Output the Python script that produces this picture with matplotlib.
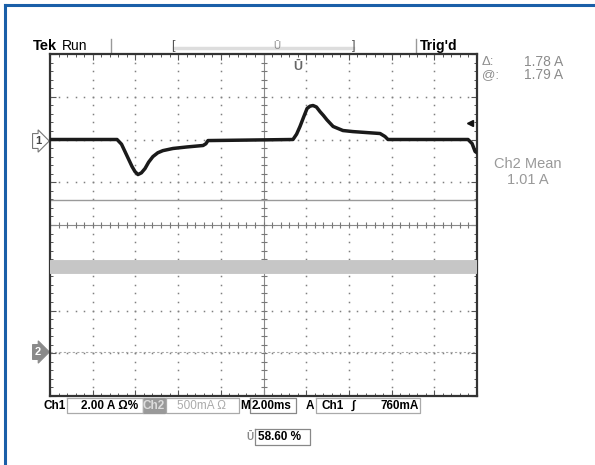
import matplotlib
matplotlib.use("Agg")
import matplotlib.pyplot as plt
import numpy as np

plt.rcParams['font.family'] = ['Liberation Sans', 'DejaVu Sans']

# scope settings
ch1_scale = 2.00      # A/div
ch2_scale = 0.50      # A/div
time_scale = 2.00     # ms/div
ch1_ground = 6.0      # div from bottom
ch2_ground = 1.0
ch1_trig_level = 0.76  # A
cursor_a = 1.79       # A (Ch2)
cursor_b = 0.01
ch2_mean = 1.01

# Ch1 trace, time in ms from left edge, current in A
ch1_t = [0.0, 3.14, 3.35, 3.51, 3.68, 3.84, 3.98, 4.12, 4.28, 4.45, 4.62, 4.82, 5.05, 5.29,
         5.76, 6.4, 7.17, 7.3, 7.40, 11.38, 11.55, 11.71, 11.88, 12.04, 12.18, 12.32, 12.48,
         12.65, 12.81, 12.97, 13.26, 13.72, 14.19, 15.46, 15.69, 15.83, 19.58, 19.77, 19.91, 20.0]
ch1_i = [0.0, 0.0, -0.22, -0.56, -0.92, -1.26, -1.50, -1.64, -1.56, -1.36, -1.06, -0.80, -0.62, -0.52,
         -0.42, -0.35, -0.28, -0.20, -0.05, 0.0, 0.25, 0.61, 1.05, 1.45, 1.56, 1.59, 1.52,
         1.30, 1.12, 0.92, 0.61, 0.42, 0.37, 0.28, 0.14, 0.0, 0.0, -0.19, -0.56, -0.62]

ch2_t = [0.0, 20.0]
ch2_i = [ch2_mean, ch2_mean]

W, H = 595, 465
fig = plt.figure(figsize=(W / 100, H / 100), dpi=100)
fig.patch.set_facecolor('white')

# overlay in pixel coords for the screen text
ov = fig.add_axes([0, 0, 1, 1])
ov.set_xlim(0, W)
ov.set_ylim(H, 0)
ov.axis('off')
ov.patch.set_alpha(0)

# blue frame (left and top)
ov.plot([5, 5], [5, H], color='#1a5fa8', lw=2.2)
ov.plot([5, W], [5, 5], color='#1a5fa8', lw=2.2)

# graticule axes
gl, gt, gr, gb = 50, 54, 477, 396
ax = fig.add_axes([gl / W, 1 - gb / H, (gr - gl) / W, (gb - gt) / H])
ax.set_xlim(0, 10 * time_scale)
ax.set_ylim(0, 8)
ax.set_facecolor('none')
for s in ax.spines.values():
    s.set_color('#333333')
    s.set_linewidth(1.6)
ax.set_xticks(np.arange(0, 20.01, time_scale))
ax.set_xticks(np.arange(0, 20.01, time_scale / 5), minor=True)
ax.set_yticks(np.arange(0, 8.01, 1))
ax.set_yticks(np.arange(0, 8.01, 0.2), minor=True)
ax.tick_params(which='both', direction='in', top=True, right=True,
               labelbottom=False, labelleft=False, color='#555555')
ax.tick_params(which='major', length=4, width=0.8)
ax.tick_params(which='minor', length=2.5, width=0.7)

# dotted grid
sub_x = np.arange(0, 20.01, time_scale / 5)
sub_y = np.arange(0, 8.01, 0.2)
for k in range(1, 10):
    if k == 5:
        continue
    ax.plot(np.full_like(sub_y, k * time_scale), sub_y, ls='none', marker='s',
            ms=1.1, color='#808080', mew=0)
for k in range(1, 8):
    if k == 4:
        continue
    ax.plot(sub_x, np.full_like(sub_x, k), ls='none', marker='s', ms=1.1,
            color='#808080', mew=0)

# center cross with ticks
ax.axhline(4, color='#8a8a8a', lw=0.8)
ax.axvline(10, color='#8a8a8a', lw=0.8)
ax.plot(sub_x, np.full_like(sub_x, 4), ls='none', marker='|', ms=4, mew=0.8, color='#777777')
ax.plot(np.full_like(sub_y, 10), sub_y, ls='none', marker='_', ms=4, mew=0.8, color='#777777')

# cursors (Ch2)
ax.axhline(ch2_ground + cursor_a / ch2_scale, color='#9a9a9a', lw=1.0)
ax.axhline(ch2_ground + cursor_b / ch2_scale, color='#a8a8a8', lw=0.8, ls=(0, (2, 2)))

# traces
ch2_y = [ch2_ground + v / ch2_scale for v in ch2_i]
ax.plot(ch2_t, ch2_y, color='#c6c6c6', lw=10, solid_capstyle='butt', zorder=3)
ch1_y = [ch1_ground + v / ch1_scale for v in ch1_i]
ax.plot(ch1_t, ch1_y, color='#1a1a1a', lw=2.5, solid_joinstyle='round', zorder=4)

# trigger level arrow
ax.plot([19.65], [ch1_ground + ch1_trig_level / ch1_scale], marker='<', ms=5,
        color='#111111', clip_on=False, zorder=5)

# header
ov.text(33, 46, 'Tek', fontsize=10.5, fontweight='bold', va='center', ha='left')
ov.text(62, 46, 'Run', fontsize=10, va='center', ha='left')
ov.plot([111, 111], [39, 52], color='#999999', lw=1)
ov.plot([174, 353], [48, 48], color='#dddddd', lw=2.5)
ov.text(171, 46, '[', fontsize=9, va='center', ha='left', color='#555555')
ov.text(352, 46, ']', fontsize=9, va='center', ha='left', color='#555555')
ov.text(277, 46, 'Ū', fontsize=7, va='center', ha='center', color='#888888')
ov.plot([416, 416], [39, 52], color='#999999', lw=1)
ov.text(420, 46, "Trig'd", fontsize=10, fontweight='bold', va='center', ha='left')
ov.text(298, 67, 'Ū', fontsize=9, fontweight='bold', va='center', ha='center', color='#666666')

# cursor readouts
gray = '#8c8c8c'
ov.text(482, 62, 'Δ:', fontsize=9.5, color=gray, va='center')
ov.text(563, 62, '1.78 A', fontsize=10, color=gray, va='center', ha='right')
ov.text(482, 75, '@:', fontsize=9.5, color=gray, va='center')
ov.text(563, 75, '1.79 A', fontsize=10, color=gray, va='center', ha='right')
ov.text(528, 164, 'Ch2 Mean', fontsize=10.5, color='#999999', va='center', ha='center')
ov.text(528, 180, '1.01 A', fontsize=10.5, color='#999999', va='center', ha='center')

# channel markers
ov.text(35, 141, '1', fontsize=8, fontweight='bold', va='center', ha='left', color='#444444',
        bbox=dict(boxstyle='rarrow,pad=0.22', fc='white', ec='#777777', lw=0.8))
ov.text(35, 352, '2', fontsize=8, fontweight='bold', va='center', ha='left', color='white',
        bbox=dict(boxstyle='rarrow,pad=0.22', fc='#8a8a8a', ec='#8a8a8a', lw=0.8))

# bottom status line
def box(x0, x1, y0, y1, ec='#aaaaaa'):
    ov.plot([x0, x1, x1, x0, x0], [y0, y0, y1, y1, y0], color=ec, lw=0.9)

fs = 8.5
ov.text(44, 406, 'Ch1', fontsize=fs, fontweight='bold', va='center')
box(67, 143, 398, 413)
ov.text(81, 406, '2.00 A Ω%', fontsize=fs, fontweight='bold', va='center')
ov.add_patch(plt.Rectangle((143, 398), 22, 15, fc='#999999', ec='#999999'))
ov.text(154, 406, 'Ch2', fontsize=fs, fontweight='bold', va='center', ha='center', color='#dddddd')
box(166, 239, 398, 413)
ov.text(177, 406, '500mA Ω', fontsize=fs, va='center', color='#aaaaaa')
ov.text(240, 406, 'M', fontsize=fs, fontweight='bold', va='center')
box(250, 296, 398, 413, ec='#888888')
ov.text(252, 406, '2.00ms', fontsize=fs, fontweight='bold', va='center')
ov.text(306, 406, 'A', fontsize=fs, fontweight='bold', va='center')
box(316, 420, 398, 413)
ov.text(322, 406, 'Ch1', fontsize=fs, fontweight='bold', va='center')
ov.text(352, 406, '∫', fontsize=fs, fontweight='bold', va='center', style='italic')
ov.text(419, 406, '760mA', fontsize=fs, fontweight='bold', va='center', ha='right')

ov.text(250, 437, 'Ū', fontsize=7, fontweight='bold', va='center', ha='center', color='#888888')
box(255, 310, 429, 445, ec='#888888')
ov.text(258, 437, '58.60 %', fontsize=fs, fontweight='bold', va='center')

fig.savefig('out.png', dpi=100)
